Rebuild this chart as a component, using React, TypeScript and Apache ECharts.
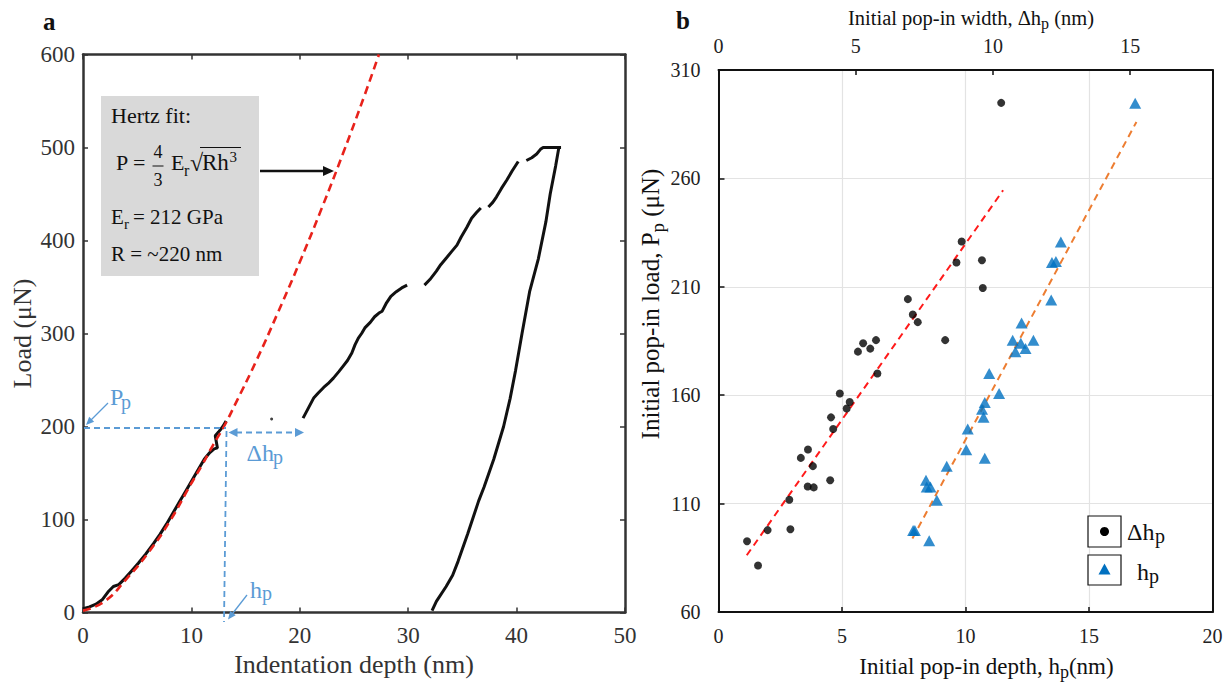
import React, { useEffect, useRef } from "react";
import * as echarts from "echarts";

const FONT = "Liberation Serif";

// ---------- Panel a: load–displacement ----------
const hertzDepth = [0, 2, 4, 6, 8, 10, 11, 12, 13, 14, 16, 18, 20, 22, 24, 26, 27.3];
const hertzLoad = [2, 12, 36, 64, 98, 139, 159, 180, 200, 223, 271, 323, 377, 434, 494, 557, 600];

const load1Depth = [0, 0.6, 1.2, 1.8, 2.3, 2.8, 3.3, 3.9, 4.5, 5.1, 5.8, 6.5, 7.1, 7.7, 8.3, 8.9, 9.5, 10.1, 10.7, 11.2, 11.7, 12.1, 12.4, 12.2, 12.5, 12.9, 13.2];
const load1Load = [4, 6, 9, 14, 22, 28, 30, 37, 45, 53, 63, 74, 84, 95, 107, 119, 131, 143, 155, 165, 172, 176, 177, 190, 194, 200, 206];

const strayDepth = [17.4];
const strayLoad = [208];

const load2Depth = [20.3, 20.8, 21.3, 21.7, 22.2, 22.6, 23.1, 23.6, 24.0, 24.4, 24.8, 25.1, 25.4, 25.7, 26.0, 26.5, 26.9, 27.3, 27.6, 28.0, 28.4, 28.9, 29.4, 29.9];
const load2Load = [209, 220, 231, 236, 242, 246, 252, 259, 265, 271, 279, 288, 295, 300, 306, 312, 318, 322, 324, 333, 340, 345, 349, 352];

const load3Depth = [31.5, 32.0, 32.6, 33.0, 33.5, 34.0, 34.5, 34.9, 35.4, 35.85, 36.3, 36.7];
const load3Load = [352, 358, 367, 374, 381, 388, 395, 404, 414, 424, 430, 435];

const load4Depth = [37.4, 37.8, 38.15, 38.6, 39.1, 39.6, 40.15];
const load4Load = [436, 441, 447, 456, 465, 475, 485];

const load5Depth = [40.9, 41.4, 41.85, 42.2, 42.45, 43.0, 44.1];
const load5Load = [486, 489, 493, 498, 500, 500, 500];

const unloadDepth = [43.9, 43.6, 43.1, 42.7, 42.0, 41.2, 40.5, 39.9, 39.4, 38.8, 37.9, 37.0, 36.5, 35.5, 34.6, 34.1, 33.5, 32.6, 32.2];
const unloadLoad = [500, 480, 450, 420, 380, 345, 300, 260, 230, 200, 165, 135, 120, 85, 55, 40, 28, 12, 2];

// ---------- Panel b: pop-in statistics ----------
const widthDh = [10.30, 8.86, 8.67, 9.60, 9.63, 6.90, 7.08, 7.26, 8.26, 5.74, 5.27, 5.53, 5.08, 5.79, 4.42, 4.78, 4.67, 4.10, 4.18, 3.26, 3.00, 3.44, 3.25, 3.47, 4.07, 2.58, 2.62, 1.79, 1.04, 1.44];
const widthP = [294.8, 230.9, 221.2, 222.2, 209.4, 204.3, 197.2, 193.7, 185.4, 185.4, 184.0, 181.5, 180.1, 170.0, 160.8, 156.9, 153.9, 149.8, 144.4, 135.0, 131.1, 127.3, 117.9, 117.5, 120.8, 111.8, 98.2, 97.8, 92.7, 81.5];

const depthH = [16.87, 13.86, 13.50, 13.66, 13.47, 12.27, 11.91, 12.24, 12.75, 12.02, 12.43, 10.96, 11.36, 10.78, 10.67, 10.73, 10.09, 10.03, 10.78, 9.24, 8.40, 8.43, 8.58, 8.84, 7.88, 7.95, 8.53];
const depthP = [294.6, 230.7, 221.2, 221.6, 203.9, 193.3, 185.4, 184.0, 185.4, 180.1, 181.5, 170.0, 160.8, 156.7, 153.5, 149.8, 144.4, 134.8, 130.9, 127.3, 120.8, 117.7, 117.7, 111.6, 97.6, 97.6, 92.9];

const widthFitX = [1.03, 10.37];
const widthFitY = [86.2, 254.5];
const depthFitX = [7.85, 16.92];
const depthFitY = [93.9, 286.0];

const xTicksA = { min: 0, max: 50, interval: 10 };
const yTicksA = { min: 0, max: 600, interval: 100 };
const xTicksB = { min: 0, max: 20, interval: 5 };
const xTopTicksB = { min: 0, max: 18, interval: 5 };
const yTicksB = { min: 60, max: 310, interval: 50 };

const pairs = (xs: number[], ys: number[]) => xs.map((x, i) => [x, ys[i]]);

const BLUE = "#5B9BD5";

// text placed by baseline
const txt = (x: number, base: number, text: string, fs: number, color: string, extra: any = {}) => ({
  type: "text",
  x,
  y: base - 0.34 * fs,
  z: 100,
  style: {
    text,
    fontSize: fs,
    fontFamily: FONT,
    fill: color,
    align: "left",
    verticalAlign: "middle",
    ...extra,
  },
});

const arrowHead = (tip: number[], from: number[], len: number, half: number, color: string) => {
  const dx = tip[0] - from[0];
  const dy = tip[1] - from[1];
  const d = Math.sqrt(dx * dx + dy * dy);
  const ux = dx / d;
  const uy = dy / d;
  const bx = tip[0] - ux * len;
  const by = tip[1] - uy * len;
  return {
    type: "polygon",
    z: 100,
    shape: { points: [tip, [bx - uy * half, by + ux * half], [bx + uy * half, by - ux * half]] },
    style: { fill: color },
  };
};

const dashed = (x1: number, y1: number, x2: number, y2: number) => ({
  type: "line",
  z: 100,
  shape: { x1, y1, x2, y2 },
  style: { stroke: BLUE, lineWidth: 1.8, lineDash: [6, 4] },
});

const solid = (x1: number, y1: number, x2: number, y2: number, color: string, w: number) => ({
  type: "line",
  z: 100,
  shape: { x1, y1, x2, y2 },
  style: { stroke: color, lineWidth: w },
});

function buildOption() {
  const axisA = (pos: string, labels: boolean) => ({
    axisLine: { show: true, onZero: false, lineStyle: { color: "#333", width: 2.5 } },
    axisTick: { show: true, inside: true, length: 5, lineStyle: { color: "#333", width: 1.5 } },
    splitLine: { show: false },
    position: pos,
    axisLabel: labels
      ? { show: true, fontSize: 23, fontFamily: FONT, color: "#333", margin: pos === "left" ? 8 : 11 }
      : { show: false },
  });

  const traceStyle = { color: "#111", width: 3 };
  const trace = (xs: number[], ys: number[]) => ({
    type: "line",
    xAxisIndex: 0,
    yAxisIndex: 0,
    data: pairs(xs, ys),
    symbol: "none",
    lineStyle: traceStyle,
    z: 2,
  });

  const graphic: any[] = [
    txt(43, 30, "a", 25, "#111", { fontWeight: "bold" }),
    txt(676, 28.5, "b", 25, "#111", { fontWeight: "bold" }),
    // Hertz box
    { type: "rect", z: 90, shape: { x: 101, y: 96, width: 158, height: 180 }, style: { fill: "#d9d9d9" } },
    txt(111, 123, "Hertz fit:", 22, "#111"),
    txt(116, 170, "P =", 22, "#111"),
    {
      type: "text", z: 100, x: 158, y: 151.5,
      style: { text: "4", fontSize: 18, fontFamily: FONT, fill: "#111", align: "center", verticalAlign: "middle" },
    },
    {
      type: "text", z: 100, x: 158, y: 179.5,
      style: { text: "3", fontSize: 18, fontFamily: FONT, fill: "#111", align: "center", verticalAlign: "middle" },
    },
    solid(152.5, 166, 163.5, 166, "#111", 1),
    txt(171, 170, "E", 22, "#111"),
    txt(184, 176, "r", 16, "#111"),
    txt(190, 171, "\u221A", 24, "#111"),
    solid(200, 147.5, 241, 147.5, "#111", 1.2),
    txt(202, 170, "Rh", 23, "#111"),
    txt(229.5, 162, "3", 15, "#111"),
    txt(111, 224, "E", 21, "#111"),
    txt(124, 229, "r", 15, "#111"),
    txt(133, 224, "= 212 GPa", 21, "#111"),
    txt(111, 261, "R = ~220 nm", 21, "#111"),
    // black arrow
    solid(260, 171, 324, 171, "#111", 2.5),
    arrowHead([334, 171], [260, 171], 11, 5, "#111"),
    // blue annotations
    dashed(84, 428, 226, 428),
    dashed(226.5, 431, 224, 622),
    dashed(236, 432.5, 296, 432.5),
    arrowHead([228.5, 432.5], [300, 432.5], 9, 4.5, BLUE),
    arrowHead([304, 432.5], [228, 432.5], 9, 4.5, BLUE),
    solid(108, 403, 90, 421, BLUE, 1.3),
    arrowHead([86, 425], [108, 403], 8, 3.5, BLUE),
    solid(247, 595, 231, 615.5, BLUE, 1.3),
    arrowHead([228, 619.5], [247, 595], 8, 3.5, BLUE),
    txt(110, 405, "P", 24, BLUE),
    txt(121, 408.5, "p", 20, BLUE),
    txt(246.5, 461.5, "\u0394h", 24, BLUE),
    txt(273, 463.5, "p", 20, BLUE),
    txt(250, 598, "h", 24, BLUE),
    txt(262, 600, "p", 20, BLUE),
    // legend panel b
    { type: "rect", z: 100, shape: { x: 1088, y: 516, width: 33, height: 31 }, style: { fill: "#fff", stroke: "#111", lineWidth: 1.2 } },
    { type: "circle", z: 101, shape: { cx: 1104.5, cy: 531.5, r: 4.5 }, style: { fill: "#000" } },
    txt(1127, 540, "\u0394h", 24, "#111"),
    txt(1155, 543, "p", 20, "#111"),
    { type: "rect", z: 100, shape: { x: 1088, y: 555, width: 33, height: 30 }, style: { fill: "#fff", stroke: "#111", lineWidth: 1.2 } },
    {
      type: "polygon", z: 101,
      shape: { points: [[1104.5, 563.5], [1110.5, 574.5], [1098.5, 574.5]] },
      style: { fill: "#0070C0" },
    },
    txt(1137, 580, "h", 24, "#111"),
    txt(1149, 583, "p", 20, "#111"),
  ];

  const bAxisLine = { show: true, onZero: false, lineStyle: { color: "#111", width: 2 } };
  const bLabel = (margin: number) => ({ show: true, fontSize: 20, fontFamily: FONT, color: "#222", margin });
  const gridLine = { show: true, lineStyle: { color: "#e3e3e3", width: 1.2 } };

  return {
    animation: false,
    backgroundColor: "#ffffff",
    grid: [
      { left: 83, top: 54.5, width: 542, height: 558 },
      { left: 718.5, top: 61.5, width: 494, height: 556.5 },
    ],
    xAxis: [
      {
        gridIndex: 0, type: "value", ...xTicksA, ...axisA("bottom", true),
        name: "Indentation depth (nm)", nameLocation: "middle", nameGap: 39,
        nameTextStyle: { fontSize: 26, fontFamily: FONT, color: "#333" },
      },
      { gridIndex: 0, type: "value", ...xTicksA, ...axisA("top", false) },
      {
        gridIndex: 1, type: "value", ...xTicksB, position: "bottom",
        axisLine: bAxisLine,
        axisTick: { show: true, inside: true, length: 5, lineStyle: { color: "#111", width: 1.5 } },
        axisLabel: bLabel(14),
        splitLine: gridLine,
        name: "Initial pop-in depth, h{s|p}(nm)", nameLocation: "middle", nameGap: 36,
        nameTextStyle: {
          fontSize: 23, fontFamily: FONT, color: "#111", lineHeight: 30, padding: [0, 0, 0, 42],
          rich: { s: { fontSize: 18, fontFamily: FONT, color: "#111", verticalAlign: "bottom" } },
        },
      },
      {
        gridIndex: 1, type: "value", ...xTopTicksB, position: "top",
        axisLine: bAxisLine,
        axisTick: { show: true, inside: true, length: 5, lineStyle: { color: "#111", width: 1.5 } },
        axisLabel: { ...bLabel(14), showMaxLabel: false },
        splitLine: { show: false },
        name: "Initial pop-in width, \u0394h{s|p} (nm)", nameLocation: "middle", nameGap: 30,
        nameTextStyle: {
          fontSize: 20.5, fontFamily: FONT, color: "#111", lineHeight: 26, padding: [0, 0, 0, 11],
          rich: { s: { fontSize: 16, fontFamily: FONT, color: "#111", verticalAlign: "bottom" } },
        },
      },
    ],
    yAxis: [
      {
        gridIndex: 0, type: "value", ...yTicksA, ...axisA("left", true),
        name: "Load (\u03BCN)", nameLocation: "middle", nameGap: 48,
        nameTextStyle: { fontSize: 26, fontFamily: FONT, color: "#333" },
      },
      { gridIndex: 0, type: "value", ...yTicksA, ...axisA("right", false) },
      {
        gridIndex: 1, type: "value", ...yTicksB, position: "left",
        axisLine: bAxisLine,
        axisTick: { show: true, inside: true, length: 6, lineStyle: { color: "#111", width: 1.5 } },
        axisLabel: bLabel(18),
        splitLine: gridLine,
        name: "Initial pop-in load, P{s|p} (\u03BCN)", nameLocation: "middle", nameGap: 50,
        nameTextStyle: {
          fontSize: 25, fontFamily: FONT, color: "#111", lineHeight: 32, padding: [0, 0, 0, 74],
          rich: { s: { fontSize: 19, fontFamily: FONT, color: "#111", verticalAlign: "bottom" } },
        },
      },
      {
        gridIndex: 1, type: "value", ...yTicksB, position: "right",
        axisLine: bAxisLine, axisTick: { show: false }, axisLabel: { show: false }, splitLine: { show: false },
      },
    ],
    series: [
      trace(load1Depth, load1Load),
      trace(load2Depth, load2Load),
      trace(load3Depth, load3Load),
      trace(load4Depth, load4Load),
      trace(load5Depth, load5Load),
      trace(unloadDepth, unloadLoad),
      {
        type: "scatter", xAxisIndex: 0, yAxisIndex: 0, data: pairs(strayDepth, strayLoad),
        symbolSize: 3, itemStyle: { color: "#111" },
      },
      {
        type: "line", xAxisIndex: 0, yAxisIndex: 0, data: pairs(hertzDepth, hertzLoad),
        smooth: true, symbol: "none", z: 3,
        lineStyle: { color: "#E8221B", width: 2.6, type: [8, 5] },
      },
      {
        type: "line", xAxisIndex: 3, yAxisIndex: 2, data: pairs(widthFitX, widthFitY),
        symbol: "none", lineStyle: { color: "#FF1A1A", width: 2, type: [7, 5] },
      },
      {
        type: "line", xAxisIndex: 2, yAxisIndex: 2, data: pairs(depthFitX, depthFitY),
        symbol: "none", lineStyle: { color: "#ED7D31", width: 2, type: [7, 5] },
      },
      {
        type: "scatter", xAxisIndex: 3, yAxisIndex: 2, data: pairs(widthDh, widthP),
        symbol: "circle", symbolSize: 8, itemStyle: { color: "#000" }, z: 5,
      },
      {
        type: "scatter", xAxisIndex: 2, yAxisIndex: 2, data: pairs(depthH, depthP),
        symbol: "triangle", symbolSize: [12, 11], itemStyle: { color: "#0070C0" }, z: 5,
      },
    ],
    graphic,
  };
}

export default function App() {
  const ref = useRef<HTMLDivElement>(null);
  useEffect(() => {
    if (!ref.current) return;
    const chart = echarts.init(ref.current, undefined, { renderer: "svg" });
    chart.setOption(buildOption() as any);
    return () => chart.dispose();
  }, []);
  return (
    <div
      ref={ref}
      style={{ position: "absolute", left: 0, top: 0, width: 1230, height: 686, background: "#fff" }}
    />
  );
}
